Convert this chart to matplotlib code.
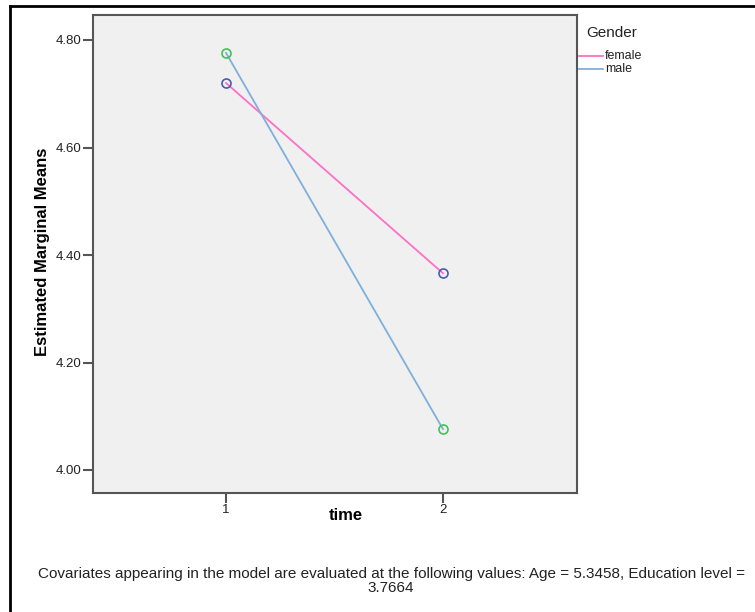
import matplotlib
matplotlib.use("Agg")
import matplotlib.pyplot as plt
from matplotlib.lines import Line2D

plt.rcParams['font.family'] = ['Liberation Sans', 'DejaVu Sans']

time_levels = [1, 2]
female = [4.720, 4.366]
male = [4.776, 4.076]
y_ticks = [4.00, 4.20, 4.40, 4.60, 4.80]
y_tick_labels = ["4.00", "4.20", "4.40", "4.60", "4.80"]
series_names = ["female", "male"]

W, H = 755, 612
fig = plt.figure(figsize=(W / 100, H / 100), dpi=100)
fig.patch.set_facecolor("white")

def fx(px):
    return px / W

def fy(py):
    return 1 - py / H

ax = fig.add_axes([fx(93), fy(493), fx(577) - fx(93), fy(15) - fy(493)])
ax.set_facecolor("#f0f0f0")

ax.plot(time_levels, female, color="#ff6ec7", lw=1.3, zorder=2)
ax.plot(time_levels, male, color="#7fafdc", lw=1.3, zorder=2)
ax.plot(time_levels, female, ls="none", marker="o", ms=6.5, mfc="none",
        mec="#4b5cae", mew=1.2, zorder=3)
ax.plot(time_levels, male, ls="none", marker="o", ms=6.5, mfc="none",
        mec="#3ec25a", mew=1.2, zorder=3)

ax.set_xlim(1 - 133 / 217, 2 + 134 / 217)
ax.set_ylim(4.0 - 23 / 537.5, 4.8 + 25 / 537.5)
ax.set_xticks(time_levels)
ax.set_xticklabels([str(t) for t in time_levels])
ax.set_yticks(y_ticks)
ax.set_yticklabels(y_tick_labels)

for s in ax.spines.values():
    s.set_color("#555555")
    s.set_linewidth(1.5)
ax.tick_params(direction="out", length=7, width=1.5, color="#555555",
               labelsize=9.5, labelcolor="#222222", pad=1)

fig.text(fx(43), fy(252), "Estimated Marginal Means", rotation=90,
         ha="center", va="center", fontsize=12, fontweight="bold")
fig.text(fx(346), fy(515), "time", ha="center", va="center",
         fontsize=12, fontweight="bold")

fig.text(fx(391), fy(574), "Covariates appearing in the model are evaluated at the following values: Age = 5.3458, Education level =",
         ha="center", va="center", fontsize=11, color="#222222")
fig.text(fx(391), fy(588), "3.7664", ha="center", va="center",
         fontsize=11, color="#222222")

# legend
fig.text(fx(586), fy(33), "Gender", ha="left", va="center", fontsize=11,
         color="#222222")
leg_colors = ["#ff6ec7", "#7fafdc"]
for i, (name, c) in enumerate(zip(series_names, leg_colors)):
    yy = 56 + i * 13
    fig.add_artist(Line2D([fx(579), fx(603)], [fy(yy), fy(yy)], color=c, lw=1.3))
    fig.text(fx(605), fy(yy), name, ha="left", va="center", fontsize=9,
             color="#222222")

# outer frame (left and top)
fig.add_artist(Line2D([fx(10), fx(10)], [fy(6), 0], color="black", lw=2))
fig.add_artist(Line2D([fx(10), 1], [fy(6), fy(6)], color="black", lw=2))

fig.savefig("out.png", dpi=100)
